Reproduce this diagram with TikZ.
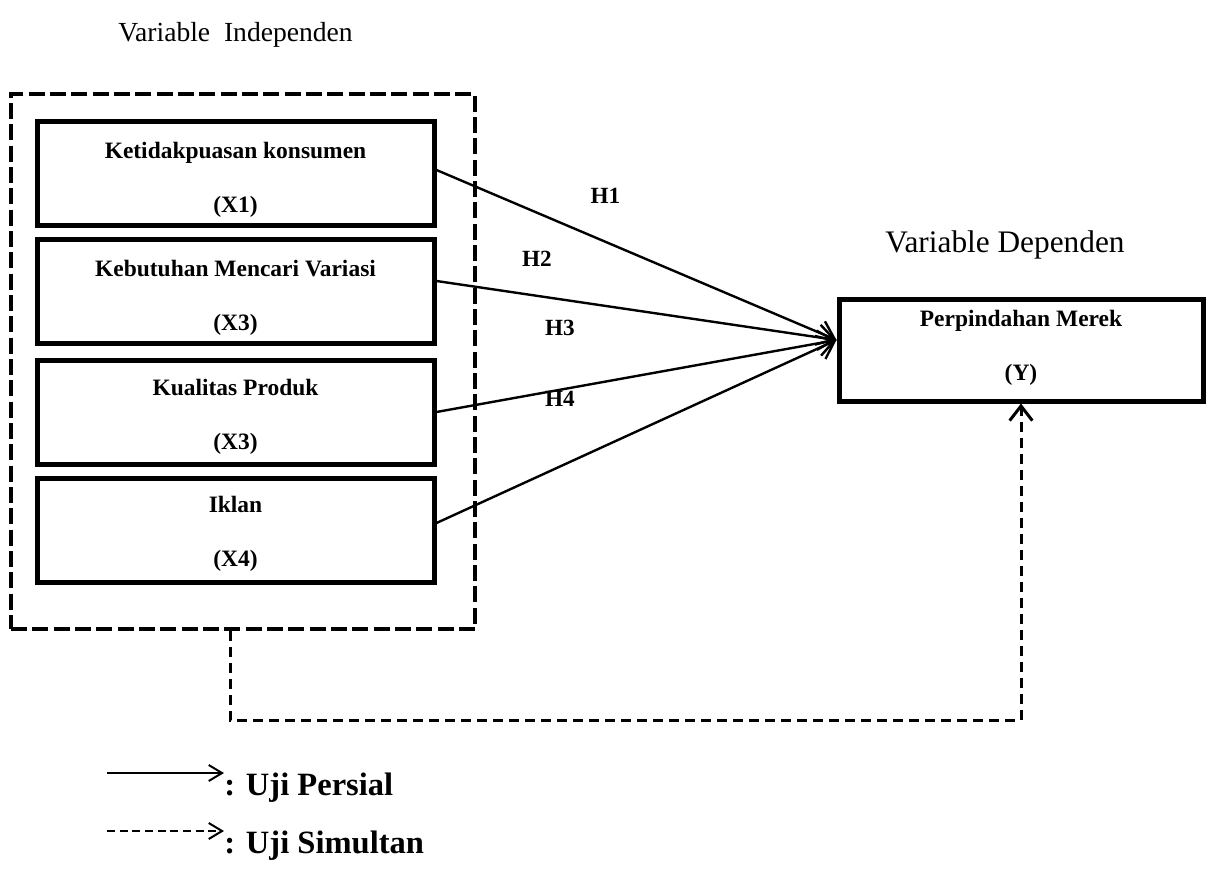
\documentclass[tikz,border=0pt]{standalone}
\usepackage{fontspec}
\setmainfont{Liberation Serif}
\usetikzlibrary{arrows.meta,calc}
\begin{document}
\begin{tikzpicture}[x=0.75pt,y=-0.75pt,
  vbox/.style={draw, line width=3.75pt, minimum width=297.75pt, minimum height=78pt, inner sep=0pt},
  ybox/.style={draw, line width=3.75pt, minimum width=273pt, minimum height=76.5pt, inner sep=0pt},
  outerbox/.style={draw, line width=3.4pt, dash pattern=on 12pt off 4pt, minimum width=348pt, minimum height=401.25pt, inner sep=0pt},
  btext/.style={anchor=base, font=\fontsize{17.6}{20}\selectfont\bfseries, inner sep=0pt},
  titletext/.style={anchor=base, font=\fontsize{23.5}{26}\selectfont, inner sep=0pt},
  hlab/.style={anchor=base, font=\fontsize{17.4}{20}\selectfont\bfseries, inner sep=0pt},
  legtext/.style={anchor=base west, font=\fontsize{24.4}{27}\selectfont\bfseries, inner sep=0pt},
  persial/.style={line width=1.8pt, -{Straight Barb[length=12pt,width=19pt]}},
  simul/.style={line width=2.25pt, dash pattern=on 7.5pt off 4.5pt, -{Straight Barb[length=11pt,width=17pt]}},
  legsolid/.style={line width=1.5pt, -{Straight Barb[length=10pt,width=12pt]}},
  legdash/.style={line width=1.5pt, dash pattern=on 6pt off 3.5pt, -{Straight Barb[length=10pt,width=12pt]}}
]
\useasboundingbox (0,0) rectangle (1207,881);

% titles
\node[titletext, font=\fontsize{20.7}{24}\selectfont] (tind) at (235.5,42) {Variable\ \ Independen};
\node[titletext] (tdep) at (1005,252) {Variable Dependen};

% outer dashed box
\node[outerbox] (outer) at (243,361.5) {};

% independent variable boxes
\node[vbox] (b1) at (235.5,173.5) {};
\node[vbox] (b2) at (235.5,291.5) {};
\node[vbox] (b3) at (235.5,412) {};
\node[vbox] (b4) at (235.5,530.5) {};

\node[btext] (b1a) at (235.5,158) {Ketidakpuasan konsumen};
\node[btext] (b1b) at (235.5,212) {(X1)};
\node[btext] (b2a) at (235.5,276) {Kebutuhan Mencari Variasi};
\node[btext] (b2b) at (235.5,330) {(X3)};
\node[btext] (b3a) at (235.5,395) {Kualitas Produk};
\node[btext] (b3b) at (235.5,449) {(X3)};
\node[btext] (b4a) at (235.5,512) {Iklan};
\node[btext] (b4b) at (235.5,566) {(X4)};

% dependent box
\node[ybox] (Y) at (1021,350) {};
\node[btext] (Ya) at (1021,326) {Perpindahan Merek};
\node[btext] (Yb) at (1021,380) {(Y)};

% partial arrows
\coordinate (tip) at ($(Y.west)+(0,-10)$);
\draw[persial] ($(b1.east)+(0,-3.5)$) -- (tip);
\draw[persial] ($(b2.east)+(0,-10.5)$) -- (tip);
\draw[persial] (b3.east) -- (tip);
\draw[persial] ($(b4.east)+(0,-7.5)$) -- (tip);

\node[hlab] (h1) at (605.5,203) {H1};
\node[hlab] (h2) at (537,266) {H2};
\node[hlab] (h3) at (560,335) {H3};
\node[hlab] (h4) at (560,406) {H4};

% simultaneous arrow
\coordinate (d0) at ($(outer.south)+(-13,0)$);
\draw[simul] (d0) -- ++(0,89) -| (Y.south);

% legend
\coordinate (l1s) at (107,773);
\coordinate (l1e) at (224,773);
\draw[legsolid] (l1s) -- (l1e);
\node[legtext] (l1t) at (224,795) {: Uji Persial};
\coordinate (l2s) at (107,831);
\coordinate (l2e) at (224,831);
\draw[legdash] (l2s) -- (l2e);
\node[legtext] (l2t) at (224,853) {: Uji Simultan};
\end{tikzpicture}
\end{document}
